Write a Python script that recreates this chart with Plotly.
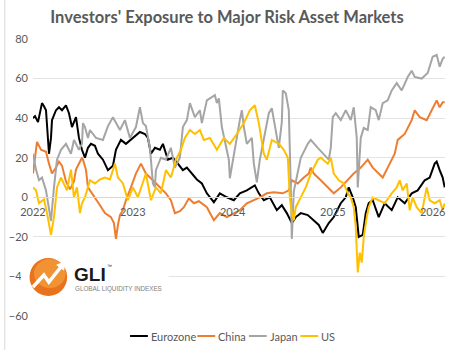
import numpy as np
import pandas as pd
import plotly.graph_objects as go

# ---------------- data ----------------
# time as decimal year, values in index points
eurozone_t = [2022.00, 2022.02, 2022.05, 2022.09, 2022.11, 2022.13, 2022.16, 2022.18, 2022.19, 2022.23,
              2022.26, 2022.29, 2022.33, 2022.36, 2022.39, 2022.43, 2022.46, 2022.49, 2022.52, 2022.55,
              2022.58, 2022.62, 2022.65, 2022.70, 2022.75, 2022.80, 2022.83, 2022.88, 2022.93, 2023.00,
              2023.07, 2023.12, 2023.15, 2023.18, 2023.22, 2023.27, 2023.30, 2023.35, 2023.40, 2023.45,
              2023.50, 2023.54, 2023.59, 2023.64, 2023.69, 2023.74, 2023.81, 2023.87, 2023.94, 2024.01,
              2024.07, 2024.14, 2024.22, 2024.26, 2024.31, 2024.37, 2024.44, 2024.49, 2024.54, 2024.59,
              2024.63, 2024.68, 2024.75, 2024.81, 2024.86, 2024.90, 2024.96, 2025.01, 2025.08, 2025.13,
              2025.16, 2025.20, 2025.23, 2025.26, 2025.30, 2025.33, 2025.36, 2025.40, 2025.46, 2025.52,
              2025.59, 2025.65, 2025.72, 2025.79, 2025.85, 2025.92, 2025.97, 2026.02, 2026.04, 2026.07,
              2026.10, 2026.12]
eurozone_v = [40, 41, 38, 47.6, 46, 44, 22, 30, 39, 44,
              45.5, 44, 46.5, 42.5, 35.5, 40.5, 30, 24, 20, 25,
              27, 26, 22, 19, 13.7, 16, 24, 29, 27, 30,
              33, 32, 30, 22, 25, 24, 27, 19, 20, 17,
              13.7, 15, 12, 9, 7, 2, -2.5, 2, 0, -1.5,
              2, 3.5, 6, 2, -1.5, 0, -6.5, -4, -8, -13,
              -10, -8, -9, -11.6, -14, -18, -13, -10, -3, 0,
              5, 0, -5, -20, -19, -8, -3, -1.5, -10, -3,
              -6.5, 0, -3, 2, 3.5, 8.6, 10, 17, 18, 13.7,
              10, 5]

china_t = [2022.00, 2022.02, 2022.04, 2022.08, 2022.13, 2022.16, 2022.19, 2022.23, 2022.26, 2022.29,
           2022.33, 2022.37, 2022.41, 2022.43, 2022.46, 2022.49, 2022.50, 2022.53, 2022.55, 2022.62,
           2022.67, 2022.72, 2022.78, 2022.81, 2022.83, 2022.85, 2022.87, 2022.90, 2022.93, 2022.98,
           2023.03, 2023.08, 2023.13, 2023.20, 2023.27, 2023.33, 2023.38, 2023.42, 2023.47, 2023.51,
           2023.56, 2023.61, 2023.66, 2023.74, 2023.81, 2023.87, 2023.94, 2024.01, 2024.07, 2024.14,
           2024.21, 2024.27, 2024.34, 2024.41, 2024.50, 2024.56, 2024.59, 2024.65, 2024.71, 2024.76,
           2024.78, 2024.81, 2024.88, 2024.95, 2025.01, 2025.08, 2025.15, 2025.21, 2025.28, 2025.35,
           2025.40, 2025.46, 2025.50, 2025.55, 2025.62, 2025.65, 2025.72, 2025.79, 2025.82, 2025.87,
           2025.94, 2025.99, 2026.04, 2026.07, 2026.10, 2026.12]
china_v = [12, 20, 28, 24, 23, 17, 12, 15, 18, 16,
           8, 4, 8, 14, 17, 20, 19, 14, 5, 0,
           -4, -8, -10, -13, -21, -14, -9, -6.5, -1.5, 5,
           12, 17, 12, 8.6, 5, 2, -1.5, -8, -7, -5,
           -0.5, -3, -2, -5, -11.6, -8, -10, -8, -6.5, -3,
           -1.5, 0, 2, 2.5, 2, 3.5, 8.6, 7, 10, 12,
           15, 12, 8.6, 5, 2, 5, 8.6, 12, 15, 19,
           15, 12, 10, 15, 22, 29, 32, 39, 44, 40.5,
           39, 44, 49, 45.5, 48, 48]

japan_t = [2022.00, 2022.03, 2022.06, 2022.09, 2022.13, 2022.16, 2022.18, 2022.21, 2022.24, 2022.28,
           2022.33, 2022.38, 2022.41, 2022.46, 2022.49, 2022.50, 2022.52, 2022.55, 2022.57, 2022.63,
           2022.70, 2022.75, 2022.80, 2022.87, 2022.92, 2022.97, 2023.03, 2023.07, 2023.10, 2023.13,
           2023.17, 2023.20, 2023.22, 2023.23, 2023.28, 2023.33, 2023.38, 2023.42, 2023.47, 2023.50,
           2023.54, 2023.57, 2023.62, 2023.67, 2023.69, 2023.74, 2023.79, 2023.82, 2023.84, 2023.86,
           2023.89, 2023.92, 2023.96, 2023.97, 2024.01, 2024.04, 2024.07, 2024.09, 2024.11, 2024.14,
           2024.19, 2024.21, 2024.24, 2024.27, 2024.32, 2024.36, 2024.39, 2024.42, 2024.46, 2024.49,
           2024.50, 2024.53, 2024.56, 2024.58, 2024.59, 2024.61, 2024.65, 2024.68, 2024.75, 2024.78,
           2024.85, 2024.91, 2024.96, 2024.98, 2025.00, 2025.03, 2025.08, 2025.13, 2025.18, 2025.21,
           2025.24, 2025.25, 2025.28, 2025.31, 2025.35, 2025.38, 2025.43, 2025.46, 2025.50, 2025.55,
           2025.59, 2025.64, 2025.69, 2025.75, 2025.79, 2025.82, 2025.89, 2025.95, 2026.00, 2026.04,
           2026.07, 2026.10, 2026.12]
japan_v = [22, 14, 8.6, 10, 3.5, -5, -12, 5, 19, 24,
           27, 22, 29, 24, 27, 37.5, 35.5, 30, 34, 30,
           29, 36, 40.5, 34, 39, 30, 35.5, 45.5, 37.5, 36,
           25, 7, 5, 13.7, 20, 19, 25, 15, 20, 35.5,
           39, 47.6, 40.5, 44, 37.5, 49, 50.6, 51.6, 47.6, 50,
           35.5, 29, 19, 9.6, 22, 29, 39, 44, 35.5, 27,
           30, 17, 7.6, 19, 32, 42.5, 45, 35.5, 25, 38,
           54, 52.6, 44, 5, -21, 3, 13.7, 20, 27, 29,
           25, 22, 19, 25, 40.5, 42.5, 39, 44, 39, 45.5,
           30, 5, 30, 35, 34, 45.5, 44, 39, 47.6, 49,
           54, 57.7, 54, 60.8, 64, 60.8, 60, 62.8, 71, 72,
           66, 70, 71]

us_t = [2022.00, 2022.03, 2022.06, 2022.11, 2022.14, 2022.18, 2022.21, 2022.24, 2022.28, 2022.31,
        2022.34, 2022.38, 2022.41, 2022.44, 2022.47, 2022.49, 2022.52, 2022.57, 2022.62, 2022.67,
        2022.72, 2022.77, 2022.82, 2022.85, 2022.90, 2022.95, 2023.00, 2023.05, 2023.10, 2023.13,
        2023.18, 2023.23, 2023.28, 2023.33, 2023.38, 2023.43, 2023.48, 2023.52, 2023.57, 2023.62,
        2023.67, 2023.71, 2023.77, 2023.84, 2023.91, 2023.97, 2024.04, 2024.11, 2024.17, 2024.22,
        2024.26, 2024.31, 2024.34, 2024.39, 2024.46, 2024.51, 2024.55, 2024.57, 2024.59, 2024.61,
        2024.63, 2024.68, 2024.73, 2024.78, 2024.85, 2024.88, 2024.95, 2024.98, 2025.01, 2025.06,
        2025.11, 2025.15, 2025.18, 2025.21, 2025.23, 2025.25, 2025.27, 2025.29, 2025.31, 2025.34,
        2025.36, 2025.40, 2025.46, 2025.52, 2025.59, 2025.64, 2025.67, 2025.70, 2025.74, 2025.77,
        2025.80, 2025.84, 2025.89, 2025.94, 2025.97, 2026.02, 2026.07, 2026.10, 2026.12]
us_v = [5, 3.5, -3, -1, -8, -19, -10, 5, 10, 7,
        3.5, 14, 0, 5, -8, -3, 0, 8.6, 7, 9,
        10, 9, 17, 10, 7, -1.5, 5, 0, 7, 12,
        -1.5, 5, 2, 13.7, 10, 19, 24, 30, 34, 32,
        34, 29, 30, 24, 30, 27, 32, 37.5, 44, 46.5,
        37.5, 22, 19, 29, 27, 24, 20, 0, -8, -11.6,
        -5, 0, 5, 12, 19, 20, 17, 20, 12, 8.6,
        7, 2, 0, -5, -15, -38, -28, -33, -20, -10,
        -5, 0, -1.5, -3, 2, 5, 8.6, 3.5, 7, -6.5,
        0, -5, -8, 5, -1.5, -3, -1.5, -6.5, -3]

year_ticks = [2022, 2023, 2024, 2025, 2026]
y_ticks = [80, 60, 40, 20, 0, -20, -40, -60]

series_names = ["Eurozone", "China", "Japan", "US"]
series_colors = ["#000000", "#ED7D31", "#A5A5A5", "#FFC000"]


def to_dates(t):
    t = np.asarray(t, dtype=float)
    return pd.Timestamp("2022-01-01") + pd.to_timedelta((t - 2022.0) * 365.25, unit="D")


# ---------------- layout helpers (pixel -> paper) ----------------
W, H = 454, 350
ML, MR, MT, MB = 29, 9, 39, 34
PW, PH = W - ML - MR, H - MT - MB


def px(x):
    return (x - ML) / PW


def py(y):
    return (H - MB - y) / PH


fig = go.Figure()
all_t = [eurozone_t, china_t, japan_t, us_t]
all_v = [eurozone_v, china_v, japan_v, us_v]
for name, col, t, v in zip(series_names, series_colors, all_t, all_v):
    fig.add_trace(go.Scatter(x=to_dates(t), y=v, mode="lines", name=name,
                             line=dict(color=col, width=2), showlegend=False,
                             hoverinfo="skip"))

FONT = "Lato, 'Open Sans', sans-serif"
GREY = "#595959"

fig.update_layout(
    width=W, height=H,
    margin=dict(l=ML, r=MR, t=MT, b=MB),
    paper_bgcolor="white", plot_bgcolor="white",
    font=dict(family=FONT, color=GREY, size=11),
    title=dict(text="<b>Investors' Exposure to Major Risk Asset Markets</b>",
               x=0.5, xanchor="center", y=1 - 17 / H, yanchor="middle",
               font=dict(size=16.5, color=GREY, family=FONT)),
    xaxis=dict(type="date", range=["2022-01-01", "2026-02-15"],
               tickvals=[pd.Timestamp(f"{y}-01-01") for y in year_ticks],
               ticktext=[str(y) for y in year_ticks],
               showgrid=False, zeroline=False,
               showline=True, linecolor="#D9D9D9", linewidth=1,
               anchor="free", position=60 / 140, ticks="",
               ticklabelstandoff=5,
               tickfont=dict(size=11, color=GREY)),
    yaxis=dict(range=[-60, 80], tickvals=y_ticks, showgrid=True,
               gridcolor="#E3E3E3", gridwidth=1, zeroline=False,
               showline=False, ticks="", ticklabelstandoff=4,
               tickfont=dict(size=11, color=GREY)),
)

shapes = []
annotations = []

# custom legend
leg_items = [(127, 145, 146), (195, 213, 214), (247, 265, 266), (299, 317, 318)]
for (x0, x1, xt), name, col in zip(leg_items, series_names, series_colors):
    shapes.append(dict(type="line", xref="paper", yref="paper",
                       x0=px(x0), x1=px(x1), y0=py(336), y1=py(336),
                       line=dict(color=col, width=2)))
    annotations.append(dict(text=name, xref="paper", yref="paper", x=px(xt), y=py(336),
                            xanchor="left", yanchor="middle", showarrow=False,
                            font=dict(size=11, color=GREY, family=FONT)))

# GLI logo block
shapes.append(dict(type="rect", xref="paper", yref="paper", layer="above",
                   x0=px(17), x1=px(166), y0=py(299), y1=py(254),
                   fillcolor="white", line=dict(width=0)))
shapes.append(dict(type="circle", xref="paper", yref="paper", layer="above",
                   x0=px(25.5), x1=px(63.5), y0=py(296), y1=py(258),
                   fillcolor="#E8731C", line=dict(width=0)))
shapes.append(dict(type="circle", xref="paper", yref="paper", layer="above",
                   x0=px(30), x1=px(62), y0=py(288), y1=py(259),
                   fillcolor="#F39A3A", line=dict(width=0), opacity=0.8))
shapes.append(dict(type="path", xref="paper", yref="paper", layer="above",
                   path=f"M {px(29)},{py(287)} L {px(40)},{py(275)} L {px(45)},{py(282)} L {px(58)},{py(266)}",
                   line=dict(color="white", width=3.5)))
shapes.append(dict(type="path", xref="paper", yref="paper", layer="above",
                   path=f"M {px(53)},{py(265)} L {px(61)},{py(262)} L {px(60)},{py(270)} Z",
                   fillcolor="white", line=dict(color="white", width=1)))
annotations.append(dict(text="<b>GLI</b>", xref="paper", yref="paper", x=px(68), y=py(274),
                        xanchor="left", yanchor="middle", showarrow=False,
                        font=dict(size=19, color="#1A1A1A", family="Liberation Sans, Arial, sans-serif")))
annotations.append(dict(text="™", xref="paper", yref="paper", x=px(102), y=py(266),
                        xanchor="left", yanchor="middle", showarrow=False,
                        font=dict(size=5, color="#1A1A1A", family="Liberation Sans, Arial, sans-serif")))
annotations.append(dict(text="GLOBAL LIQUIDITY INDEXES", xref="paper", yref="paper", x=px(69), y=py(289),
                        xanchor="left", yanchor="middle", showarrow=False,
                        font=dict(size=6.3, color="#808080", family="Liberation Sans, Arial, sans-serif")))

# left border of the chart frame
shapes.append(dict(type="line", xref="paper", yref="paper", x0=px(0.5), x1=px(0.5),
                   y0=py(H), y1=py(0), line=dict(color="#D9D9D9", width=1)))

fig.update_layout(shapes=shapes, annotations=annotations)
fig.write_html("out.html")
